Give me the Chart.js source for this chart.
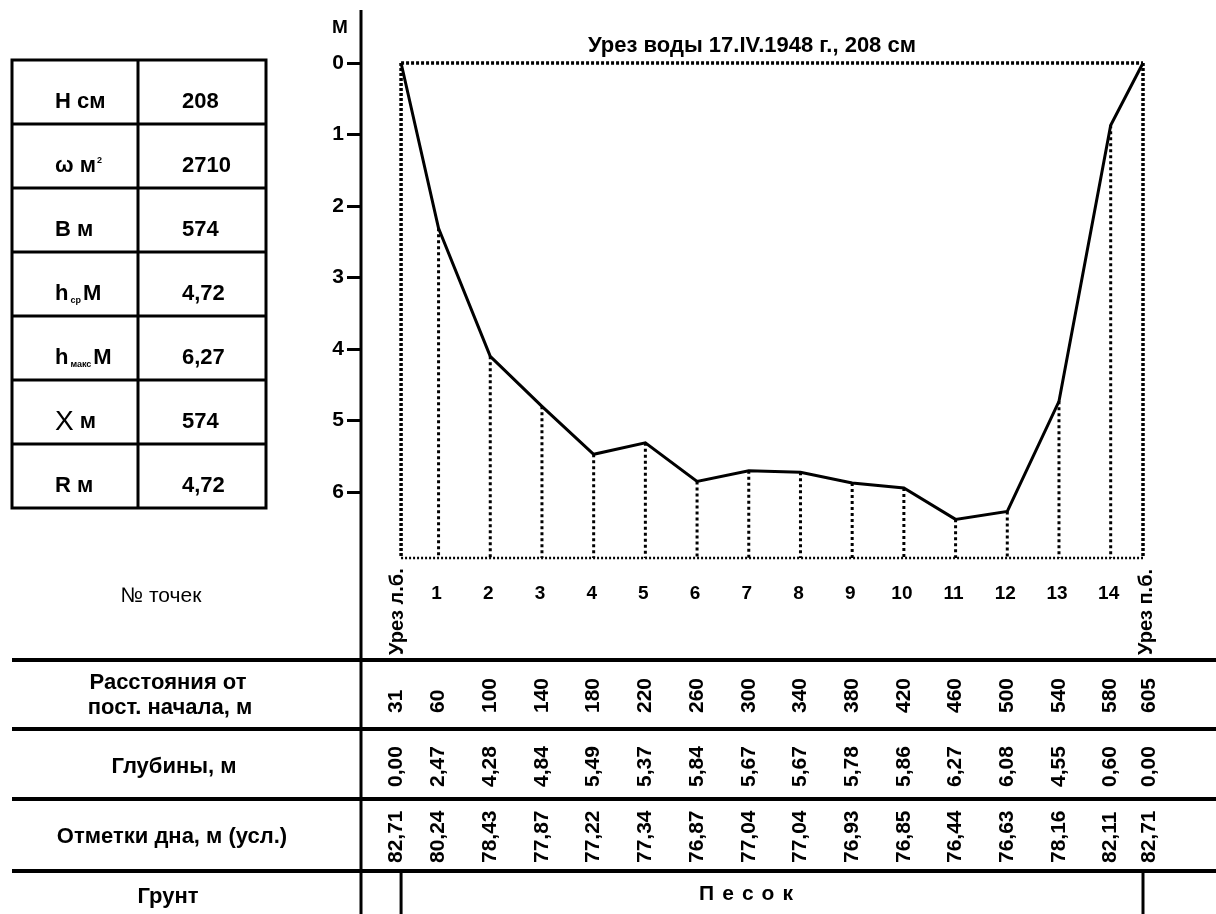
<!DOCTYPE html>
<html>
<head>
<meta charset="utf-8">
<script src="https://cdn.jsdelivr.net/npm/chart.js@4.4.0/dist/chart.umd.min.js"></script>
<style>
html, body { margin: 0; padding: 0; background: #fff; }
#wrap { width: 1216px; height: 914px; }
</style>
</head>
<body>
<div id="wrap"><canvas id="profile" width="1216" height="914"></canvas></div>
<script>
// точки промера
var pointNames = ['Урез л.б.', '1', '2', '3', '4', '5', '6', '7', '8', '9', '10', '11', '12', '13', '14', 'Урез п.б.'];
var distances = [31, 60, 100, 140, 180, 220, 260, 300, 340, 380, 420, 460, 500, 540, 580, 605];
var depthLabels = ['0,00', '2,47', '4,28', '4,84', '5,49', '5,37', '5,84', '5,67', '5,67', '5,78', '5,86', '6,27', '6,08', '4,55', '0,60', '0,00'];
var bottomMarks = ['82,71', '80,24', '78,43', '77,87', '77,22', '77,34', '76,87', '77,04', '77,04', '76,93', '76,85', '76,44', '76,63', '78,16', '82,11', '82,71'];
// глубины, как они нарисованы на профиле
var profileDepths = [0, 2.31, 4.10, 4.80, 5.47, 5.31, 5.85, 5.70, 5.72, 5.87, 5.94, 6.38, 6.27, 4.73, 0.87, 0];
var depthTicks = [0, 1, 2, 3, 4, 5, 6];

// морфометрия
var paramNames = ['Н', 'ω', 'В', 'h', 'h', 'Χ', 'R'];
var paramSubs = ['', '', '', 'ср', 'макс', '', ''];
var paramUnits = ['см', 'м', 'м', 'М', 'М', 'м', 'м'];
var paramSups = ['', '2', '', '', '', '', ''];
var paramValues = ['208', '2710', '574', '4,72', '6,27', '574', '4,72'];

var rowTitles = [['№ точек'], ['Расстояния от', 'пост. начала, м'], ['Глубины, м'], ['Отметки дна, м (усл.)'], ['Грунт']];
var titleText = 'Урез воды 17.IV.1948 г., 208 см';
var groundText = 'Песок';

var depthMax = 6.92;
var FONT = '"Liberation Sans", Arial, sans-serif';
Chart.defaults.font.family = FONT;
Chart.defaults.color = '#000';

function hline(ctx, x1, y1, x2, y2, w) {
    ctx.lineWidth = w;
    ctx.beginPath();
    ctx.moveTo(x1, y1);
    ctx.lineTo(x2, y2);
    ctx.stroke();
}

function upText(ctx, txt, x, y, font) {
    ctx.save();
    ctx.translate(x, y);
    ctx.rotate(-Math.PI / 2);
    ctx.font = font;
    ctx.textAlign = 'left';
    ctx.textBaseline = 'middle';
    ctx.fillText(txt, 0, 0);
    ctx.restore();
}

var sheet = {
    id: 'sheet',
    afterDraw: function (chart) {
        var ctx = chart.ctx;
        var xs = chart.scales.x;
        var axisX = chart.chartArea.left;
        var n = distances.length;
        ctx.save();
        ctx.fillStyle = '#000';
        ctx.strokeStyle = '#000';
        ctx.setLineDash([]);

        // ось и линии нижней таблицы
        hline(ctx, axisX, 10, axisX, 914, 3);
        [660, 729, 799, 871].forEach(function (y) { hline(ctx, 12, y, 1216, y, 4); });
        hline(ctx, xs.getPixelForValue(distances[0]), 871, xs.getPixelForValue(distances[0]), 914, 3);
        hline(ctx, xs.getPixelForValue(distances[n - 1]), 871, xs.getPixelForValue(distances[n - 1]), 914, 3);

        // подпись оси и заголовок
        ctx.textBaseline = 'alphabetic';
        ctx.textAlign = 'center';
        ctx.font = 'bold 19px ' + FONT;
        ctx.fillText('М', 340, 33);
        ctx.font = 'bold 22px ' + FONT;
        ctx.fillText(titleText, 752, 52);

        // номера точек
        ctx.font = 'bold 19px ' + FONT;
        for (var i = 1; i < n - 1; i++) {
            ctx.fillText(pointNames[i], xs.getPixelForValue(distances[i]) - 2, 599);
        }
        upText(ctx, pointNames[0], xs.getPixelForValue(distances[0]) - 4, 655, 'bold 20px ' + FONT);
        upText(ctx, pointNames[n - 1], xs.getPixelForValue(distances[n - 1]) + 3, 655, 'bold 20px ' + FONT);

        // значения в таблице
        var numFont = 'bold 21px ' + FONT;
        for (var j = 0; j < n; j++) {
            var cx = xs.getPixelForValue(distances[j]);
            if (j === 0) cx -= 5;
            if (j === n - 1) cx += 6;
            upText(ctx, String(distances[j]), cx, 713, numFont);
            upText(ctx, depthLabels[j], cx, 787, numFont);
            upText(ctx, bottomMarks[j], cx, 863, numFont);
        }

        // названия строк
        ctx.textAlign = 'center';
        ctx.textBaseline = 'middle';
        ctx.font = '21px ' + FONT;
        ctx.fillText(rowTitles[0][0], 161, 596);
        ctx.font = 'bold 22px ' + FONT;
        ctx.fillText(rowTitles[1][0], 168, 683);
        ctx.fillText(rowTitles[1][1], 170, 708);
        ctx.fillText(rowTitles[2][0], 174, 767);
        ctx.fillText(rowTitles[3][0], 172, 837);
        ctx.fillText(rowTitles[4][0], 168, 897);

        // грунт
        ctx.font = 'bold 21px ' + FONT;
        ctx.textAlign = 'left';
        var gap = 8, total = 0;
        groundText.split('').forEach(function (ch) { total += ctx.measureText(ch).width; });
        total += gap * (groundText.length - 1);
        var gx = 746 - total / 2;
        groundText.split('').forEach(function (ch) {
            ctx.fillText(ch, gx, 894);
            gx += ctx.measureText(ch).width + gap;
        });

        // таблица морфометрии
        var top = 60, rowH = 64;
        ctx.lineWidth = 3;
        ctx.strokeRect(12, top, 254, rowH * paramNames.length);
        for (var r = 1; r < paramNames.length; r++) hline(ctx, 12, top + r * rowH, 266, top + r * rowH, 3);
        hline(ctx, 138, top, 138, top + rowH * paramNames.length, 3);
        ctx.textBaseline = 'alphabetic';
        for (var k = 0; k < paramNames.length; k++) {
            var base = top + k * rowH + 48;
            var x = 55;
            ctx.font = (paramNames[k] === 'Χ' ? '28px ' : 'bold 22px ') + FONT;
            ctx.fillText(paramNames[k], x, base + (paramNames[k] === 'Χ' ? 2 : 0));
            x += ctx.measureText(paramNames[k]).width;
            if (paramSubs[k]) {
                ctx.font = 'bold 9px ' + FONT;
                ctx.fillText(paramSubs[k], x + 2, base + 3);
                x += ctx.measureText(paramSubs[k]).width + 4;
            } else {
                ctx.font = 'bold 22px ' + FONT;
                x += ctx.measureText(' ').width;
            }
            ctx.font = 'bold 22px ' + FONT;
            ctx.fillText(paramUnits[k], x, base);
            x += ctx.measureText(paramUnits[k]).width;
            if (paramSups[k]) {
                ctx.font = 'bold 9px ' + FONT;
                ctx.fillText(paramSups[k], x + 1, base - 9);
            }
            ctx.font = 'bold 22px ' + FONT;
            ctx.fillText(paramValues[k], 182, base);
        }
        ctx.restore();
    }
};

var profilePts = distances.map(function (d, i) { return { x: d, y: profileDepths[i] }; });
var innerDrops = [];
for (var i = 1; i < distances.length - 1; i++) {
    innerDrops.push({ x: distances[i], y: profileDepths[i] }, { x: distances[i], y: depthMax }, { x: distances[i], y: null });
}
var first = distances[0], last = distances[distances.length - 1];
var edgeDrops = [{ x: first, y: 0 }, { x: first, y: depthMax }, { x: first, y: null }, { x: last, y: 0 }, { x: last, y: depthMax }];

function lineSet(data, width, dash) {
    return {
        data: data, borderColor: '#000', borderWidth: width, borderDash: dash,
        pointRadius: 0, fill: false, tension: 0, spanGaps: false, clip: false
    };
}

new Chart(document.getElementById('profile').getContext('2d'), {
    type: 'line',
    data: {
        datasets: [
            lineSet(profilePts, 3, []),
            lineSet(innerDrops, 3, [3, 3]),
            lineSet(edgeDrops, 3.5, [3, 2]),
            lineSet([{ x: first, y: 0 }, { x: last, y: 0 }], 3.5, [3, 2]),
            lineSet([{ x: first, y: depthMax }, { x: last, y: depthMax }], 2.5, [2, 2])
        ]
    },
    options: {
        responsive: false,
        animation: false,
        devicePixelRatio: 1,
        layout: { padding: { left: 0, top: 63, right: 73, bottom: 356 } },
        plugins: { legend: { display: false }, tooltip: { enabled: false } },
        scales: {
            x: { type: 'linear', min: 0, max: 605, display: false },
            y: {
                type: 'linear', reverse: true, min: 0, max: depthMax,
                afterFit: function (s) { s.width = 361; },
                afterBuildTicks: function (s) { s.ticks = depthTicks.map(function (v) { return { value: v }; }); },
                border: { display: false },
                grid: { drawOnChartArea: false, drawTicks: true, tickLength: 14, color: '#000', lineWidth: 3 },
                ticks: { color: '#000', padding: 3, font: { size: 21, weight: 'bold' } }
            }
        }
    },
    plugins: [sheet]
});
</script>
</body>
</html>
